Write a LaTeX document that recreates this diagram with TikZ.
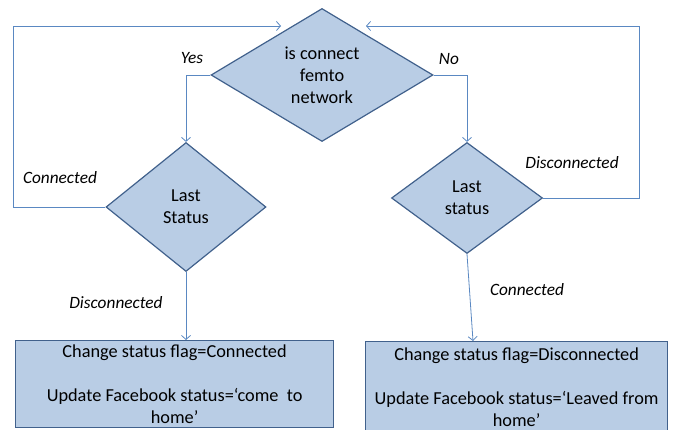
\documentclass[tikz,border=0pt]{standalone}
\usepackage{fontspec}
\setmainfont{Carlito}
\usetikzlibrary{shapes.geometric,arrows.meta}
\definecolor{boxfill}{HTML}{B9CDE5}
\definecolor{boxline}{HTML}{41618C}
\definecolor{flowline}{HTML}{5A88C2}

\begin{document}
\begin{tikzpicture}[x = 1pt, y = -1pt, font = \fontsize{18.3}{22}\selectfont,
	decision/.style = {diamond, draw = boxline, fill = boxfill, line width = 1.2pt, inner sep = 0pt, align = center},
	action/.style = {rectangle, draw = boxline, fill = boxfill, line width = 1.2pt, inner sep = 1pt, align = center, anchor = north west},
	flow/.style = {draw = flowline, line width = 0.8pt, -{Straight Barb[length = 4pt, width = 9pt]}},
	answer/.style = {font = \fontsize{17.3}{21}\selectfont\itshape}]

	\useasboundingbox (0, 0) rectangle (676, 430);

	\node (NET) at (322,  75) [decision, minimum width = 222pt, minimum height = 133pt, aspect = 1.67] {is connect\\femto\\network};
	\node (LS)  at (186, 207) [decision, minimum width = 160pt, minimum height = 129pt, aspect = 1.24] {Last\\Status};
	\node (RS)  at (467, 198) [decision, minimum width = 151pt, minimum height = 111pt, aspect = 1.36] {Last\\status};
	\node (LB)  at ( 15, 340) [action, minimum width = 318pt, minimum height = 87pt]
		{Change status flag=Connected\\ ~\\Update Facebook status=`come\ \ to\\home'};
	\node (RB)  at (365, 341) [action, minimum width = 302pt, minimum height = 91pt]
		{Change status flag=Disconnected\\ ~\\Update Facebook status=`Leaved from\\home'};

	% loop-back corners
	\coordinate (turnL) at ( 13, 26);
	\coordinate (backL) at (281, 26);
	\coordinate (turnR) at (639, 26);
	\coordinate (backR) at (366, 26);

	\foreach \from/\to in {NET.west/LS.north, NET.east/RS.north}
		\path (\from) edge [flow, to path = {-| (\tikztotarget)}] (\to);

	\draw [flow] (LS.west) -| (turnL) -- (backL);
	\draw [flow] (RS.east) -| (turnR) -- (backR);
	\draw [flow] (LS.south) -- (LS.south |- LB.north);
	\draw [flow] (RS.south) -- ([xshift = 6pt] RS.south |- RB.north);

	\node (yesL)  at (192,  58) [answer] {Yes};
	\node (noL)   at (449,  59) [answer] {No};
	\node (connL) at ( 60, 178) [answer] {Connected};
	\node (discR) at (572, 163) [answer] {Disconnected};
	\node (discL) at (116, 303) [answer] {Disconnected};
	\node (connR) at (527, 290) [answer] {Connected};

\end{tikzpicture}
\end{document}
